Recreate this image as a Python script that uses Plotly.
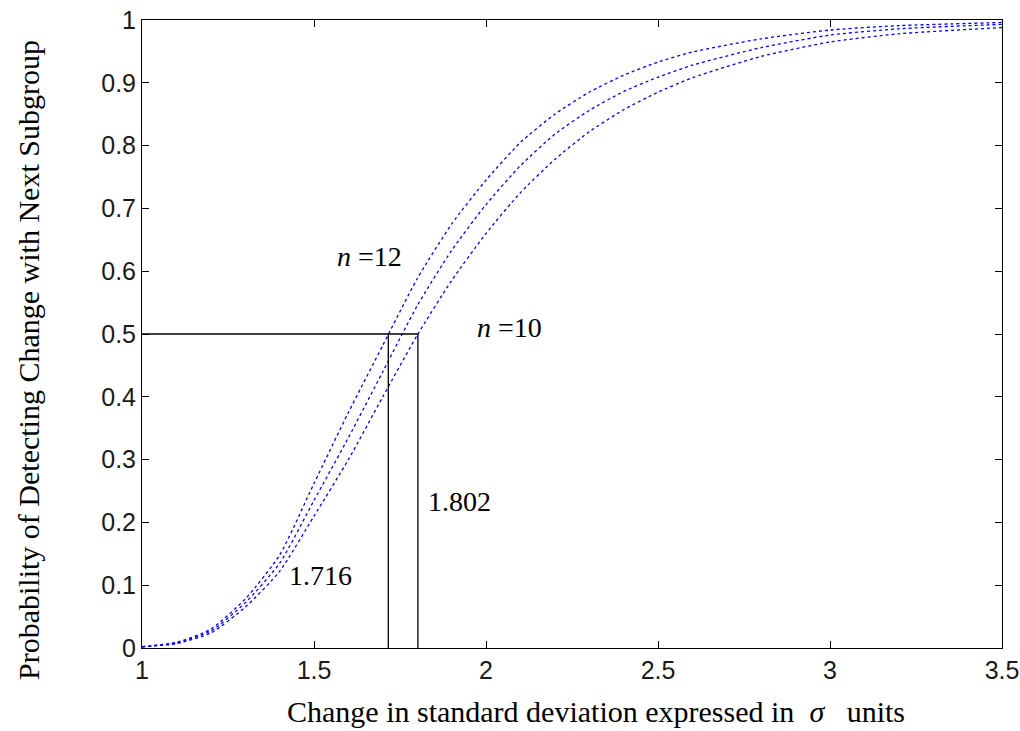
import plotly.graph_objects as go

# Data
x_vals = [1.0, 1.1, 1.2, 1.3, 1.4, 1.5, 1.6, 1.7, 1.8, 1.9, 2.0, 2.1, 2.2, 2.3, 2.4, 2.5, 2.6, 2.8, 3.0, 3.2, 3.5]
p_n12 = [0.002, 0.009, 0.030, 0.078, 0.148, 0.262, 0.375, 0.482, 0.588, 0.675, 0.745, 0.805, 0.850, 0.885, 0.912, 0.933, 0.949, 0.970, 0.984, 0.991, 0.996]
p_n11 = [0.002, 0.008, 0.027, 0.072, 0.135, 0.235, 0.335, 0.440, 0.545, 0.633, 0.706, 0.768, 0.818, 0.856, 0.886, 0.909, 0.928, 0.956, 0.976, 0.986, 0.993]
p_n10 = [0.002, 0.007, 0.024, 0.065, 0.122, 0.210, 0.300, 0.400, 0.498, 0.585, 0.660, 0.725, 0.778, 0.822, 0.857, 0.885, 0.908, 0.942, 0.965, 0.978, 0.988]

# Reference lines at P = 0.5
crit_x = [1.716, 1.802]
crit_p = 0.5

x_ticks = [1, 1.5, 2, 2.5, 3, 3.5]
x_tick_text = ["1", "1.5", "2", "2.5", "3", "3.5"]
y_ticks = [0, 0.1, 0.2, 0.3, 0.4, 0.5, 0.6, 0.7, 0.8, 0.9, 1]
y_tick_text = ["0", "0.1", "0.2", "0.3", "0.4", "0.5", "0.6", "0.7", "0.8", "0.9", "1"]

fig = go.Figure()
for ys in (p_n12, p_n11, p_n10):
    fig.add_trace(go.Scatter(x=x_vals, y=ys, mode="lines",
                             line=dict(color="#0000ff", width=1.3, dash="dot", shape="spline", smoothing=0.6),
                             showlegend=False, hoverinfo="skip"))

# horizontal line at 0.5 from x=1 to the larger critical value
fig.add_trace(go.Scatter(x=[x_ticks[0], max(crit_x)], y=[crit_p, crit_p], mode="lines",
                         line=dict(color="black", width=1.3), showlegend=False))
for cx in crit_x:
    fig.add_trace(go.Scatter(x=[cx, cx], y=[0, crit_p], mode="lines",
                             line=dict(color="black", width=1.3), showlegend=False))

serif = "Liberation Serif"
ann_font = dict(family=serif, size=28, color="black")
fig.add_annotation(x=1.66, y=0.623, text="<i>n</i> =12", showarrow=False, font=ann_font)
fig.add_annotation(x=2.067, y=0.511, text="<i>n</i> =10", showarrow=False, font=ann_font)
fig.add_annotation(x=1.924, y=0.234, text="1.802", showarrow=False, font=ann_font)
fig.add_annotation(x=1.519, y=0.116, text="1.716", showarrow=False, font=ann_font)

# axis titles as annotations (positioned like reference)
fig.add_annotation(xref="paper", yref="paper", x=(596 - 142) / 860, y=(648 - 711) / 628,
                   xanchor="center", yanchor="middle",
                   text="Change in standard deviation expressed in  <i>σ</i>   units",
                   showarrow=False, font=dict(family=serif, size=30, color="black"))
fig.add_annotation(xref="paper", yref="paper", x=(28 - 142) / 860, y=(648 - 360) / 628,
                   xanchor="center", yanchor="middle",
                   text="Probability of Detecting Change with Next Subgroup", textangle=-90,
                   showarrow=False, font=dict(family=serif, size=30, color="black"))

axis_common = dict(showline=True, linecolor="black", linewidth=1, mirror="ticks",
                   ticks="inside", ticklen=7, tickcolor="black", showgrid=False, zeroline=False,
                   automargin=False,
                   tickfont=dict(family="Liberation Sans", size=25, color="#1a1a1a"))
fig.update_xaxes(range=[1, 3.5], tickvals=x_ticks, ticktext=x_tick_text, **axis_common)
fig.update_yaxes(range=[0, 1], tickvals=y_ticks, ticktext=y_tick_text, **axis_common)

fig.update_layout(width=1020, height=731, margin=dict(l=142, r=18, t=20, b=83),
                  plot_bgcolor="white", paper_bgcolor="white")

fig.write_html("out.html", config={"displayModeBar": False},
               post_script="document.body.style.margin='0';document.body.style.overflow='hidden';")
